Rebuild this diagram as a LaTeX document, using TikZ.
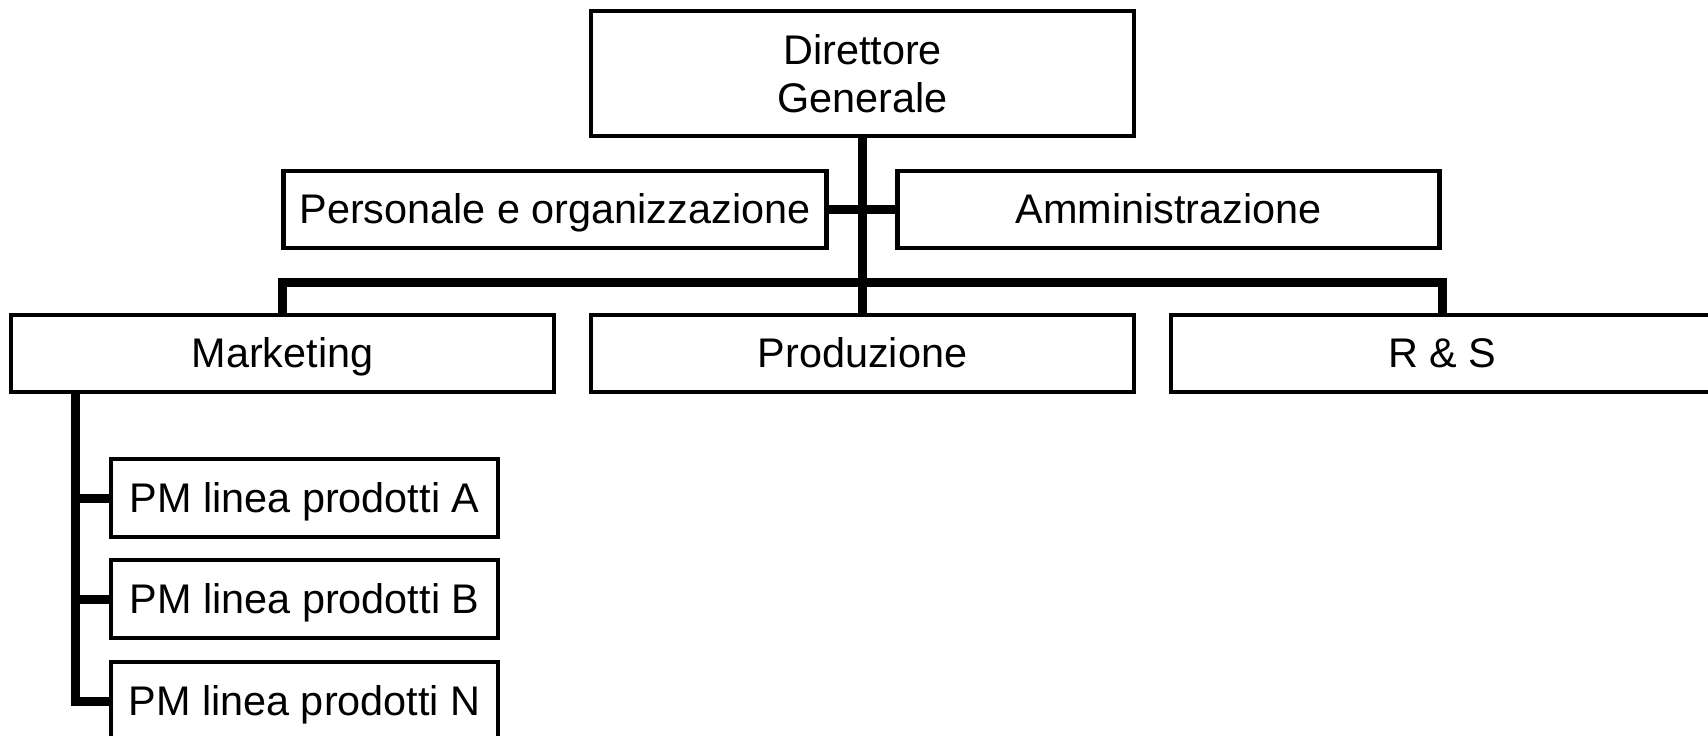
\documentclass[tikz,border=0pt]{standalone}
\usepackage{fontspec}
\setmainfont{Liberation Sans}
\usepackage{tikz}
\usetikzlibrary{positioning}

\begin{document}
\begin{tikzpicture}[
    node distance=89.5pt and 18.5pt,
    block/.style={draw, line width=2.4pt, outer sep=0pt, minimum width=271.5pt, minimum height=38.5pt, inner sep=2pt, text height=18.7pt, text depth=4.4pt, font=\fontsize{20.7}{24}\selectfont},
    pmbox/.style={block, minimum width=193.5pt, minimum height=39pt},
    link/.style={line width=4.5pt}
]

\useasboundingbox (0,0) rectangle (854pt,-367.5pt);
\clip (0,0) rectangle (854pt,-367.5pt);

% Nodes
\node[block, align=center, text height=, text depth=, minimum height=62.5pt] (dg) at (431.25pt,-36.75pt) {Direttore\\Generale};

\node[block, anchor=north east] (pers) at ([shift={(-18pt,-17.5pt)}]dg.south) {Personale e organizzazione};

\node[block, anchor=north west, minimum width=271pt] (amm) at ([shift={(17.5pt,-17.5pt)}]dg.south) {Amministrazione};

\node[block, below=of dg] (prod) {Produzione};

\node[block, left=of prod] (mkt) {Marketing};

\node[block, right=of prod] (rs) {R \& S};

\node[pmbox, anchor=north west] (pmA) at ([shift={(50pt,-33.5pt)}]mkt.south west) {PM linea prodotti A};

\node[pmbox, below=11.5pt of pmA] (pmB) {PM linea prodotti B};

\node[pmbox, below=12pt of pmB] (pmN) {PM linea prodotti N};

% Connections
\draw[link] (dg.south) -- (prod.north);

\draw[link] (mkt.north) -- ++(0,16.5pt) -| (rs.north);

\draw[link] (pers.east) -- (pers.east -| dg.south);

\draw[link] (amm.west) -- (amm.west -| dg.south);

\draw[link] ([xshift=32pt]mkt.south west) coordinate (tr) |- (pmN.west);

\draw[link] (tr |- pmA.west) -- (pmA.west);

\draw[link] (tr |- pmB.west) -- (pmB.west);

\end{tikzpicture}
\end{document}
